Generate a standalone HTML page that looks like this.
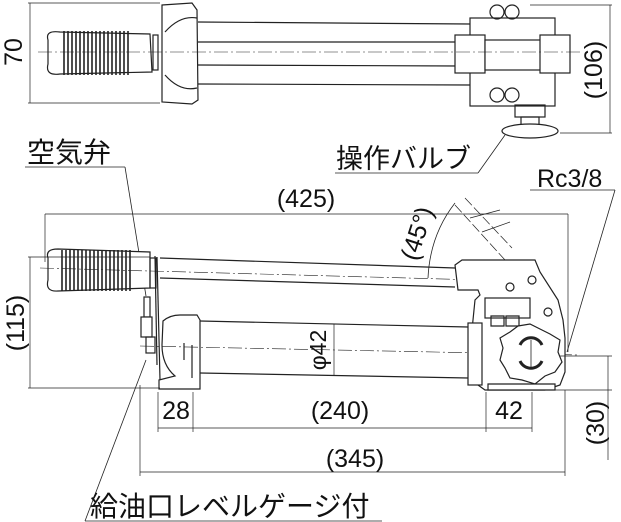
<!DOCTYPE html>
<html><head><meta charset="utf-8"><style>
html,body{margin:0;padding:0;background:#fff;}
svg{display:block;}
text{font-family:"Liberation Sans","Noto Sans CJK JP",sans-serif;fill:#111;}
</style></head><body>
<svg width="621" height="522" viewBox="0 0 621 522" xmlns="http://www.w3.org/2000/svg">
<g stroke="#222" fill="none" stroke-width="1.2">
<!-- TOP VIEW -->
<line x1="28" y1="3" x2="160" y2="3" stroke-width="0.7"/>
<line x1="28" y1="103" x2="160" y2="103" stroke-width="0.7"/>
<line x1="30" y1="3" x2="30" y2="103" stroke-width="0.7"/>
<path d="M48 40 Q45 30 60 32 L150 34 L152 72 L60 74 Q45 76 48 64 Z" fill="#fff"/>
<path d="M64 31V75M68 31V75M72 31V75M76 31V75M80 31V75M84 31V75M88 31V75M92 31V75M96 31V75M100 31V75M104 31V75M108 31V75M112 31V75M116 31V75M120 31V75M124 31V75M128 31V75" stroke-width="1.6"/>
<rect x="153" y="35" width="5" height="35"/>
<path d="M162 5 L192 3 L197 10 L198 100 L192 104 L162 102 Z" fill="#fff"/>
<path d="M165 32 Q180 15 197 18 M165 75 Q180 92 197 88"/>
<line x1="198" y1="22" x2="470" y2="24"/>
<line x1="198" y1="42" x2="460" y2="42"/>
<line x1="198" y1="65" x2="460" y2="66"/>
<line x1="198" y1="84" x2="470" y2="85"/>
<rect x="470" y="18" width="85" height="88" fill="#fff"/>
<rect x="455" y="35" width="30" height="38" fill="#fff"/>
<rect x="485" y="40" width="60" height="30" fill="#fff"/>
<rect x="540" y="35" width="30" height="38" fill="#fff"/>
<rect x="515" y="105" width="30" height="12"/>
<rect x="521" y="117" width="18" height="10"/>
<ellipse cx="530" cy="131" rx="28" ry="7" fill="#fff"/>
<circle cx="497" cy="12" r="7"/><circle cx="512" cy="12" r="7"/>
<circle cx="497" cy="95" r="7"/><circle cx="512" cy="95" r="7"/>
<line x1="530" y1="5" x2="612" y2="5" stroke-width="0.7"/>
<line x1="560" y1="133" x2="612" y2="133" stroke-width="0.7"/>
<line x1="610" y1="5" x2="610" y2="133" stroke-width="0.7"/>
<line x1="38" y1="52" x2="580" y2="52" stroke-width="0.6" stroke-dasharray="14 3 2 3"/>
<!-- leaders -->
<line x1="335" y1="173" x2="478" y2="173" stroke-width="0.8"/>
<line x1="478" y1="173" x2="505" y2="135" stroke-width="0.8"/>
<line x1="25" y1="167" x2="125" y2="167" stroke-width="0.8"/>
<line x1="125" y1="167" x2="146" y2="296" stroke-width="0.8"/>
<line x1="530" y1="190" x2="615" y2="190" stroke-width="0.8"/>
<line x1="615" y1="190" x2="567" y2="352" stroke-width="0.8"/>
<line x1="85" y1="521" x2="382" y2="521" stroke-width="0.8"/>
<line x1="85" y1="521" x2="146" y2="360" stroke-width="0.8"/>
<!-- 425 -->
<line x1="45" y1="214" x2="568" y2="214" stroke-width="0.7"/>
<line x1="45" y1="214" x2="45" y2="262" stroke-width="0.7"/>
<line x1="568" y1="214" x2="568" y2="352" stroke-width="0.7"/>
<!-- 45 deg -->
<path d="M455 203 Q430 235 428 278" stroke-width="0.8"/>
<line x1="455" y1="205" x2="505" y2="260" stroke-width="0.7" stroke-dasharray="10 3"/>
<line x1="465" y1="198" x2="512" y2="248" stroke-width="0.7" stroke-dasharray="10 3"/>
<line x1="470" y1="218" x2="500" y2="210" stroke-width="0.7"/>
<line x1="482" y1="232" x2="510" y2="222" stroke-width="0.7"/>
<!-- SIDE VIEW handle -->
<path d="M48 258 Q45 249 58 249 L150 252 L150 288 L58 291 Q45 292 48 280 Z" fill="#fff"/>
<path d="M62 250V291M66 250V291M70 250V291M74 250V291M78 250V291M82 250V291M86 250V291M90 250V291M94 250V291M98 250V291M102 250V291M106 250V291M110 250V291M114 250V291M118 250V291M122 250V291M126 250V291M130 250V291" stroke-width="1.6"/>
<rect x="150" y="258" width="6" height="30"/>
<line x1="155" y1="256" x2="157" y2="365"/>
<line x1="157" y1="257" x2="160" y2="380"/>
<line x1="160" y1="258" x2="455" y2="268"/>
<line x1="160" y1="278" x2="455" y2="287"/>
<line x1="40" y1="268" x2="480" y2="280" stroke-width="0.6" stroke-dasharray="14 3 2 3"/>
<!-- air valve / level gauge -->
<rect x="144" y="297" width="6" height="20"/>
<rect x="141" y="317" width="11" height="20" fill="#fff"/>
<rect x="146" y="337" width="9" height="16"/>
<!-- front bracket -->
<path d="M163 321 Q170 315 180 315 L197 315 L200 320 L200 389 L159 389 L159 380 L175 376 Q162 365 162 345 Z" fill="#fff"/>
<path d="M184 343 L184 360 M192 345 L192 378"/>
<!-- cylinder -->
<line x1="200" y1="321" x2="468" y2="327"/>
<line x1="200" y1="373" x2="468" y2="378"/>
<line x1="140" y1="346" x2="580" y2="355" stroke-width="0.6" stroke-dasharray="14 3 2 3"/>
<line x1="334" y1="324" x2="334" y2="376" stroke-width="0.7"/>
<!-- pump block -->
<path d="M455 265 L462 260 L535 260 L540 272 L558 300 L563 320 L565 338 L565 372 L560 385 L545 390 L485 390 L478 385 L472 330 L475 300 L480 295 L478 290 L458 290 Z" fill="#fff"/>
<rect x="468" y="323" width="14" height="62" fill="#fff"/>
<rect x="485" y="298" width="45" height="20"/>
<path d="M491 316 h13 v10 h-13 Z M506 316 h13 v10 h-13 Z"/>
<circle cx="510" cy="287" r="4"/><circle cx="532" cy="280" r="4"/><circle cx="548" cy="312" r="4"/>
<path d="M518 326 L530 324 L542 330 L550 334 L560 340 L558 352 L562 362 L555 372 L545 376 L535 384 L522 380 L510 378 L505 368 L500 360 L503 348 L500 338 L510 332 Z" fill="#fff"/>
<path d="M520 345 A12 12 0 0 1 542 345 M520 361 A12 12 0 0 0 542 361" stroke-width="3"/>
<line x1="531" y1="340" x2="531" y2="368" stroke-width="0.8"/>
<path d="M488 384 L555 384 L555 390 L488 390 Z" fill="#fff"/>
<!-- dimension lines -->
<line x1="28" y1="257" x2="150" y2="257" stroke-width="0.7"/>
<line x1="28" y1="388" x2="160" y2="388" stroke-width="0.7"/>
<line x1="30" y1="257" x2="30" y2="388" stroke-width="0.7"/>
<line x1="158" y1="392" x2="158" y2="432" stroke-width="0.7"/>
<line x1="193" y1="392" x2="193" y2="432" stroke-width="0.7"/>
<line x1="486" y1="392" x2="486" y2="432" stroke-width="0.7"/>
<line x1="532" y1="392" x2="532" y2="432" stroke-width="0.7"/>
<line x1="158" y1="428" x2="532" y2="428" stroke-width="0.7"/>
<line x1="140" y1="385" x2="140" y2="476" stroke-width="0.7"/>
<line x1="565" y1="390" x2="565" y2="476" stroke-width="0.7"/>
<line x1="140" y1="472" x2="565" y2="472" stroke-width="0.7"/>
<line x1="560" y1="356" x2="612" y2="356" stroke-width="0.7"/>
<line x1="540" y1="390" x2="612" y2="390" stroke-width="0.7"/>
<line x1="608" y1="356" x2="608" y2="460" stroke-width="0.7"/>
</g>
<g font-size="25">
<text x="0" y="0" transform="translate(22,52) rotate(-90)" text-anchor="middle">70</text>
<text x="0" y="0" transform="translate(602,70) rotate(-90)" text-anchor="middle">(106)</text>
<text x="0" y="0" transform="translate(24,323) rotate(-90)" text-anchor="middle">(115)</text>
<text x="0" y="0" transform="translate(604,423) rotate(-90)" text-anchor="middle">(30)</text>
<text x="0" y="0" transform="translate(425,236) rotate(-72)" text-anchor="middle">(45°)</text>
<text x="0" y="0" transform="translate(326,350) rotate(-90)" text-anchor="middle" font-size="23">φ42</text>
<text x="306" y="207" text-anchor="middle">(425)</text>
<text x="176" y="419" text-anchor="middle">28</text>
<text x="340" y="419" text-anchor="middle">(240)</text>
<text x="509" y="419" text-anchor="middle">42</text>
<text x="355" y="467" text-anchor="middle">(345)</text>
<text x="537" y="187">Rc3/8</text>
<text x="336" y="168" font-size="27">操作バルブ</text>
<text x="27" y="162" font-size="28">空気弁</text>
<text x="90" y="516" font-size="28">給油口レベルゲージ付</text>
</g>
</svg>
</body></html>
